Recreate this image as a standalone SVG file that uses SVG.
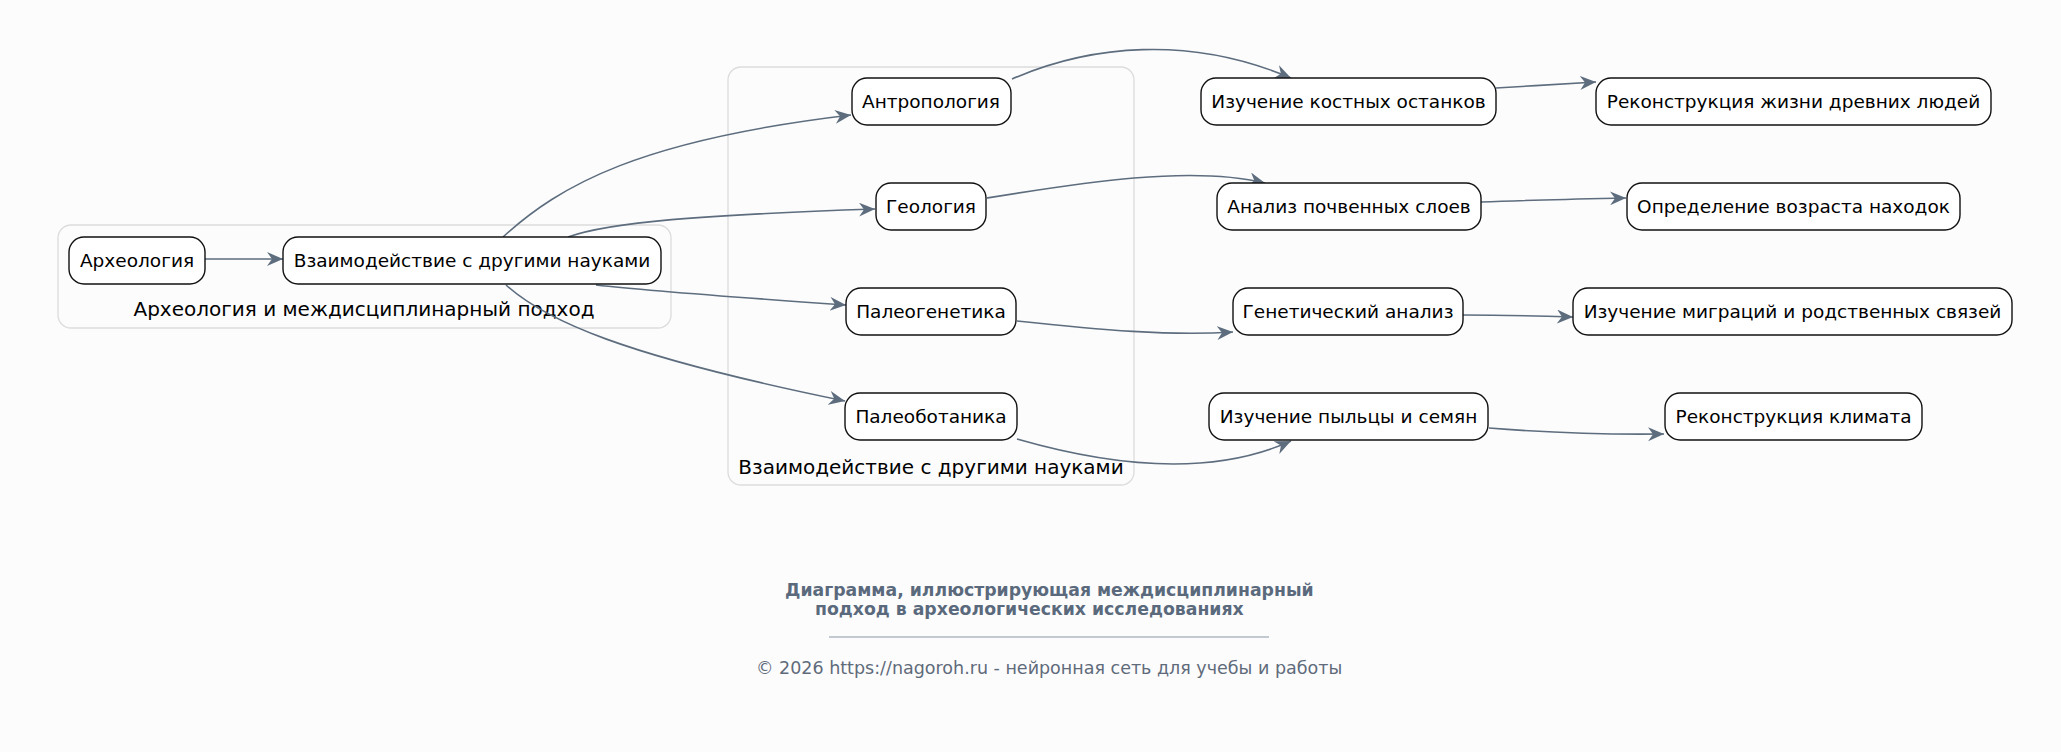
<svg xmlns="http://www.w3.org/2000/svg" width="2061" height="752" viewBox="0 0 2061 752">
<defs>
<marker id="arr" markerUnits="userSpaceOnUse" markerWidth="18" markerHeight="16" refX="16" refY="7" orient="auto">
<path d="M0,0 L16,7 L0,14 L5,7 Z" fill="#5d6d7e"/>
</marker>
</defs>
<style>
.cl{fill:#fcfcfd;stroke:#dcdcdc;stroke-width:1.3}
.nd{fill:#ffffff;stroke:#111;stroke-width:1.4}
.t{font-family:"DejaVu Sans",sans-serif;font-size:18.5px;fill:#000;text-anchor:middle;dominant-baseline:central}
.ct{font-family:"DejaVu Sans",sans-serif;font-size:20px;fill:#000;text-anchor:middle}
.e{fill:none;stroke:#5d6d7e;stroke-width:1.6;marker-end:url(#arr)}
.ti{font-family:"DejaVu Sans",sans-serif;font-size:17.3px;font-weight:bold;fill:#5a6a7c}
.ft{font-family:"DejaVu Sans",sans-serif;font-size:17.5px;fill:#5f6b7a}
</style>
<rect width="2061" height="752" fill="#fcfcfd"/>
<g id="cluster-arch">
<rect class="cl" x="58" y="225" width="613" height="103" rx="13"/>
<text class="ct" x="364" y="316">Археология и междисциплинарный подход</text>
</g>
<g id="cluster-sci">
<rect class="cl" x="728" y="67" width="406" height="418" rx="13"/>
<text class="ct" x="931" y="474">Взаимодействие с другими науками</text>
</g>
<g id="connectors">
<path class="e" d="M205,259 L283,259"/>
<path class="e" d="M503,237 C560,185 640,140 851,115"/>
<path class="e" d="M568,237 C610,222 700,215 875,209"/>
<path class="e" d="M596,285 C640,290 760,299 846,305"/>
<path class="e" d="M506,285 C545,320 620,355 845,401"/>
<path class="e" d="M1012,79 C1090,45 1190,35 1291,78"/>
<path class="e" d="M987,198 C1080,183 1190,165 1265,183"/>
<path class="e" d="M1017,321 C1100,330 1170,336 1233,332"/>
<path class="e" d="M1017,439 C1090,460 1200,482 1291,441"/>
<path class="e" d="M1496,88 C1530,86 1560,84 1596,82"/>
<path class="e" d="M1481,202 C1530,200 1580,199 1626,198"/>
<path class="e" d="M1463,315 C1500,315 1540,316 1573,317"/>
<path class="e" d="M1489,428 C1540,432 1590,435 1664,434"/>
</g>
<g id="n-arch"><rect class="nd" x="69" y="237" width="136" height="47" rx="15"/><text class="t" x="137" y="260">Археология</text></g>
<g id="n-inter"><rect class="nd" x="283" y="237" width="378" height="47" rx="15"/><text class="t" x="472" y="260">Взаимодействие с другими науками</text></g>
<g id="n-anthro"><rect class="nd" x="852" y="78" width="159" height="47" rx="15"/><text class="t" x="931" y="101">Антропология</text></g>
<g id="n-geo"><rect class="nd" x="876" y="183" width="110" height="47" rx="15"/><text class="t" x="931" y="206">Геология</text></g>
<g id="n-pgen"><rect class="nd" x="846" y="288" width="170" height="47" rx="15"/><text class="t" x="931" y="311">Палеогенетика</text></g>
<g id="n-pbot"><rect class="nd" x="845" y="393" width="172" height="47" rx="15"/><text class="t" x="931" y="416">Палеоботаника</text></g>
<g id="n-bones"><rect class="nd" x="1201" y="78" width="295" height="47" rx="15"/><text class="t" x="1348.5" y="101">Изучение костных останков</text></g>
<g id="n-soil"><rect class="nd" x="1217" y="183" width="264" height="47" rx="15"/><text class="t" x="1349" y="206">Анализ почвенных слоев</text></g>
<g id="n-genan"><rect class="nd" x="1233" y="288" width="230" height="47" rx="15"/><text class="t" x="1348" y="311">Генетический анализ</text></g>
<g id="n-pollen"><rect class="nd" x="1209" y="393" width="279" height="47" rx="15"/><text class="t" x="1348.5" y="416">Изучение пыльцы и семян</text></g>
<g id="n-life"><rect class="nd" x="1596" y="78" width="395" height="47" rx="15"/><text class="t" x="1793.5" y="101">Реконструкция жизни древних людей</text></g>
<g id="n-age"><rect class="nd" x="1627" y="183" width="333" height="47" rx="15"/><text class="t" x="1793.5" y="206">Определение возраста находок</text></g>
<g id="n-migr"><rect class="nd" x="1573" y="288" width="439" height="47" rx="15"/><text class="t" x="1792.5" y="311">Изучение миграций и родственных связей</text></g>
<g id="n-clim"><rect class="nd" x="1665" y="393" width="257" height="47" rx="15"/><text class="t" x="1793.5" y="416">Реконструкция климата</text></g>
<g id="caption">
<text class="ti" x="785" y="596">Диаграмма, иллюстрирующая междисциплинарный</text>
<text class="ti" x="815" y="615">подход в археологических исследованиях</text>
<line x1="829" y1="637" x2="1269" y2="637" stroke="#8a96a3" stroke-width="1.2"/>
<text class="ft" x="756" y="674">© 2026 https://nagoroh.ru - нейронная сеть для учебы и работы</text>
</g>
</svg>
